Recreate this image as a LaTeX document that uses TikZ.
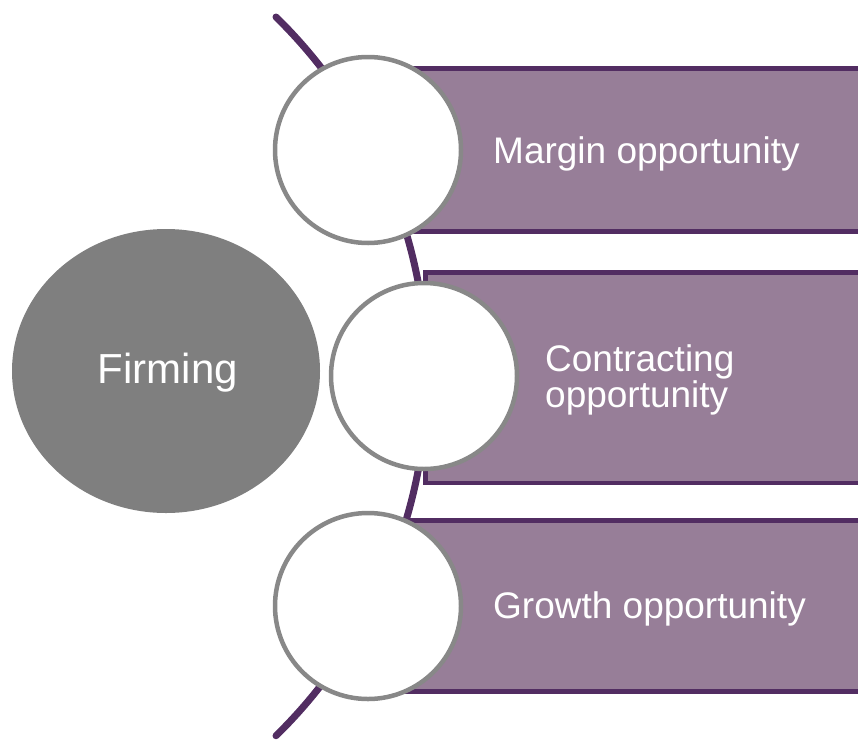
\documentclass[tikz,border=0pt]{standalone}
\usepackage{fontspec}
\setmainfont{Liberation Sans}
\usetikzlibrary{shapes.geometric}
\definecolor{arcpurple}{HTML}{522D62}
\definecolor{barfill}{HTML}{977E98}
\definecolor{ringgray}{HTML}{888888}
\definecolor{hubgray}{HTML}{7F7F7F}
\tikzset{
  bar/.style={draw=arcpurple, line width=4.5pt, fill=barfill, rectangle, inner sep=0pt, outer sep=0pt, anchor=north west},
  ring/.style={draw=ringgray, line width=4.5pt, fill=white, circle, inner sep=0pt, minimum size=186pt},
  hub/.style={fill=hubgray, ellipse, inner sep=0pt, minimum width=308pt, minimum height=284pt},
  lbl/.style={text=white, inner sep=0pt, font=\fontsize{37}{33}\selectfont},
  arcline/.style={draw=arcpurple, line width=7pt, line cap=round}
}
\begin{document}
\begin{tikzpicture}[x=1pt,y=-1pt]
\useasboundingbox (0,0) rectangle (858,739);
\clip (0,0) rectangle (858,739);
\coordinate (atop) at (276,17);
\draw[arcline] (atop) arc[start angle=-45.6, end angle=45.6, radius=503] coordinate (abot);
\node[bar, minimum width=490pt, minimum height=163pt] (b1) at (380,68.5) {};
\node[bar, minimum width=450pt, minimum height=210.5pt] (b2) at (425.5,272.5) {};
\node[bar, minimum width=490pt, minimum height=171pt] (b3) at (380,520.5) {};
\node[ring] (c1) at (368,150) {};
\node[ring] (c2) at (424,376) {};
\node[ring] (c3) at (368,606) {};
\node[hub] (hub) at (166,371) {};
\node[text=white, inner sep=0pt, font=\fontsize{42}{46}\selectfont, anchor=base] (firm) at (168,383) {Firming};
\node[lbl, anchor=base west] (t1) at (493,163) {Margin opportunity};
\node[lbl, anchor=west, align=left] (t2) at (545,380) {Contracting\\opportunity};
\node[lbl, anchor=base west] (t3) at (493,618) {Growth opportunity};
\end{tikzpicture}
\end{document}
